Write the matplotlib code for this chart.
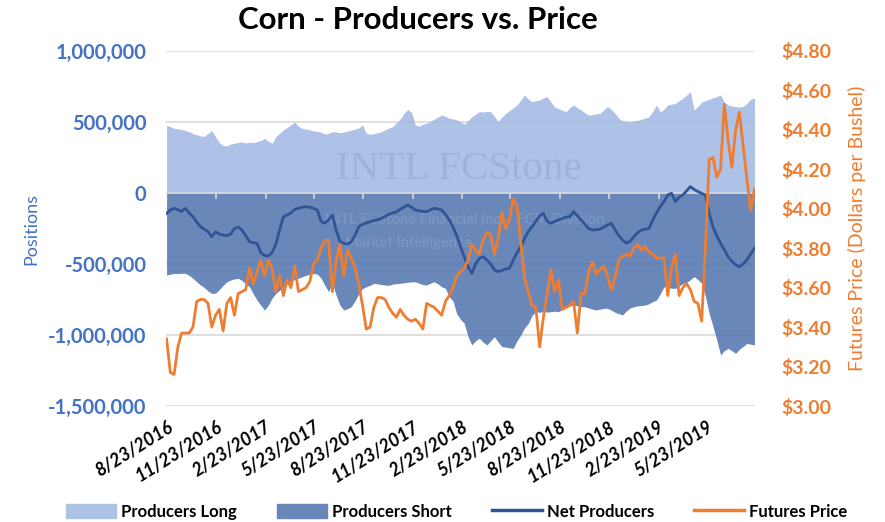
import numpy as np
import matplotlib
matplotlib.use("Agg")
import matplotlib.pyplot as plt
from matplotlib.patches import Patch
from matplotlib.lines import Line2D

plt.rcParams['font.family'] = ['Lato', 'DejaVu Sans']

start = np.datetime64('2016-08-23')

# weekly positions (thousand contracts)
producers_long = [
    475, 468, 455, 452, 447, 440, 432, 418, 410, 402, 398, 420, 440, 395, 355, 335, 332, 345, 350, 356,
    361, 352, 358, 354, 362, 370, 385, 365, 350, 398, 420, 444, 462, 480, 500, 470, 455, 450, 444, 438,
    434, 428, 415, 420, 432, 430, 425, 428, 436, 444, 450, 458, 479, 420, 413, 418, 425, 432, 445, 458,
    467, 495, 520, 560, 589, 568, 480, 470, 485, 491, 505, 519, 535, 549, 540, 526, 522, 515, 500, 486,
    510, 537, 555, 573, 570, 575, 573, 540, 502, 535, 561, 580, 600, 620, 655, 690, 660, 643, 650, 655,
    670, 678, 640, 605, 595, 583, 573, 600, 620, 600, 585, 565, 549, 552, 558, 561, 585, 608, 590, 561,
    525, 510, 505, 502, 508, 512, 519, 528, 537, 575, 620, 570, 590, 620, 625, 631, 650, 667, 690, 713,
    585, 610, 640, 650, 660, 670, 680, 690, 640, 620, 612, 608, 605, 610, 631, 660, 670]
producers_short = [
    -577, -572, -566, -568, -565, -566, -580, -601, -625, -648, -665, -690, -707, -705, -680, -650, -625, -613, -605, -601,
    -615, -640, -660, -710, -754, -790, -824, -790, -740, -707, -685, -660, -640, -620, -610, -600, -589, -580, -572, -566,
    -572, -600, -650, -695, -636, -720, -789, -824, -815, -801, -760, -710, -672, -660, -650, -636, -640, -645, -648, -650,
    -642, -638, -636, -632, -628, -626, -625, -635, -645, -648, -635, -625, -640, -660, -672, -730, -760, -850, -890, -918,
    -1012, -1070, -1040, -1023, -1050, -1070, -1040, -1012, -1050, -1082, -1085, -1090, -1094, -1040, -1000, -950, -918, -860, -836, -840,
    -835, -838, -836, -832, -836, -820, -805, -795, -789, -795, -800, -801, -810, -818, -824, -818, -812, -812, -825, -840,
    -850, -859, -830, -810, -801, -795, -792, -789, -780, -765, -754, -710, -660, -665, -670, -672, -655, -640, -630, -610,
    -589, -610, -636, -730, -850, -940, -1035, -1141, -1110, -1094, -1110, -1129, -1100, -1080, -1059, -1065, -1070]
net_producers = [
    -143, -120, -108, -118, -130, -108, -140, -167, -205, -237, -255, -273, -308, -273, -290, -296, -300, -290, -250, -240,
    -261, -300, -343, -350, -354, -420, -440, -444, -420, -360, -260, -167, -155, -140, -115, -108, -100, -96, -100, -108,
    -120, -200, -213, -190, -155, -261, -340, -354, -360, -345, -300, -237, -220, -212, -202, -195, -188, -178, -165, -150,
    -140, -132, -115, -100, -85, -100, -120, -125, -130, -132, -118, -108, -112, -120, -150, -190, -240, -300, -378, -450,
    -519, -566, -500, -460, -449, -472, -500, -542, -554, -545, -535, -530, -472, -420, -378, -320, -270, -237, -200, -160,
    -143, -200, -213, -200, -190, -180, -170, -167, -132, -160, -190, -220, -250, -261, -258, -255, -240, -225, -213, -260,
    -300, -331, -354, -340, -308, -280, -261, -255, -250, -190, -140, -96, -60, -14, -2, -61, -30, -14, 15, 45,
    25, 10, -2, -14, -143, -240, -300, -354, -400, -449, -480, -505, -519, -500, -470, -430, -390]
# weekly futures price ($/bu)
futures_price = [
    3.34, 3.17, 3.16, 3.30, 3.37, 3.37, 3.37, 3.40, 3.53, 3.54, 3.54, 3.52, 3.40, 3.46, 3.49, 3.38, 3.52, 3.55, 3.46, 3.57,
    3.58, 3.59, 3.70, 3.62, 3.68, 3.74, 3.66, 3.74, 3.70, 3.58, 3.66, 3.56, 3.64, 3.60, 3.71, 3.58, 3.59, 3.60, 3.63, 3.72,
    3.74, 3.80, 3.84, 3.84, 3.58, 3.74, 3.82, 3.66, 3.79, 3.75, 3.70, 3.62, 3.51, 3.39, 3.40, 3.50, 3.55, 3.55, 3.54, 3.50,
    3.47, 3.45, 3.49, 3.46, 3.44, 3.43, 3.44, 3.42, 3.39, 3.52, 3.51, 3.50, 3.48, 3.46, 3.53, 3.56, 3.60, 3.66, 3.68, 3.70,
    3.74, 3.82, 3.79, 3.77, 3.84, 3.88, 3.87, 3.77, 3.85, 3.98, 3.90, 3.95, 4.05, 4.01, 3.83, 3.65, 3.58, 3.51, 3.50, 3.30,
    3.45, 3.57, 3.69, 3.58, 3.64, 3.49, 3.50, 3.51, 3.53, 3.37, 3.57, 3.57, 3.68, 3.73, 3.67, 3.69, 3.71, 3.66, 3.59, 3.65,
    3.74, 3.76, 3.77, 3.76, 3.80, 3.82, 3.79, 3.81, 3.78, 3.77, 3.75, 3.75, 3.75, 3.56, 3.70, 3.77, 3.56, 3.60, 3.62, 3.59,
    3.53, 3.52, 3.43, 3.81, 4.25, 4.26, 4.16, 4.20, 4.53, 4.35, 4.21, 4.40, 4.49, 4.32, 4.15, 3.99, 4.10]

tick_dates = ['2016-08-23', '2016-11-23', '2017-02-23', '2017-05-23', '2017-08-23', '2017-11-23',
              '2018-02-23', '2018-05-23', '2018-08-23', '2018-11-23', '2019-02-23', '2019-05-23']


def weeks(vals):
    return start + 7 * np.arange(len(vals))


LIGHT = (160/255, 183/255, 226/255)   # drawn with alpha 0.85 -> ~#AEC2E6 on white
DARK = (80/255, 114/255, 173/255)     # drawn with alpha 0.85 -> ~#6A87B9
NAVY = '#2F5597'
ORANGE = '#ED7D31'
BLUE_TXT = '#4472C4'

fig = plt.figure(figsize=(8.85, 5.22), dpi=100)
ax = fig.add_axes([0.1876, 0.2222, 0.6655, 0.6801])
ax2 = ax.twinx()

ax.grid(axis='y', color='#D9D9D9', lw=1.2, zorder=0)
ax.set_axisbelow(True)
ax.fill_between(weeks(producers_long), 0, np.array(producers_long) * 1000, color=LIGHT, alpha=0.85, lw=0, zorder=2)
ax.fill_between(weeks(producers_short), 0, np.array(producers_short) * 1000, color=DARK, alpha=0.85, lw=0, zorder=2)

tds = [np.datetime64(d) for d in tick_dates]
ax.axhline(0, color='#D9D9D9', lw=1.2, zorder=3)
ax.vlines(tds[1:], -40000, 0, color='#D9D9D9', lw=1.2, zorder=3)

# watermark
wm = '#8FA6CF'
ax.text(0.497, 0.665, 'INTL FCStone', transform=ax.transAxes, ha='center', va='center',
        fontsize=29.5, family='Liberation Serif', color=wm, alpha=0.5, zorder=3)
ax.text(0.508, 0.524, 'INTL FCStone Financial Inc. - FCM Division', transform=ax.transAxes,
        ha='center', va='center', fontsize=10.5, fontweight='bold', color=wm, alpha=0.45, zorder=3)
ax.text(0.304, 0.459, 'Market Intelligence', transform=ax.transAxes,
        ha='left', va='center', fontsize=10.5, fontweight='bold', color=wm, alpha=0.45, zorder=3)

ax.plot(weeks(net_producers), np.array(net_producers) * 1000, color=NAVY, lw=2.0, zorder=4)
ax2.plot(weeks(futures_price), futures_price, color=ORANGE, lw=2.0)

ax.set_ylim(-1500000, 1000000)
ax.set_yticks(np.arange(-1500000, 1000001, 500000))
ax.yaxis.set_major_formatter(matplotlib.ticker.FuncFormatter(lambda v, p: f'{v:,.0f}'))
ax2.set_ylim(3.0, 4.8)
ax2.set_yticks(np.arange(3.0, 4.81, 0.2))
ax2.yaxis.set_major_formatter(matplotlib.ticker.FuncFormatter(lambda v, p: f'${v:.2f}'))

xmin = start - np.timedelta64(1, 'D')
xmax = weeks(futures_price)[-1] + np.timedelta64(1, 'D')
ax.set_xlim(xmin, xmax)

ax.set_xticks(tds)
ax.set_xticklabels([f'{int(d[5:7])}/{int(d[8:10])}/{d[:4]}' for d in tick_dates],
                   rotation=32, ha='right', rotation_mode='anchor',
                   fontsize=13, fontweight='bold', style='italic')
ax.tick_params(axis='x', length=0, pad=9)

ax.tick_params(axis='y', length=0, pad=14, labelsize=14.5, labelcolor=BLUE_TXT)
ax2.tick_params(axis='y', length=0, pad=19, labelsize=14, labelcolor=ORANGE)
for lab in ax.get_yticklabels() + ax2.get_yticklabels():
    lab.set_fontweight('bold')
for a in (ax, ax2):
    for s in a.spines.values():
        s.set_visible(False)

ax.set_ylabel('Positions', color=BLUE_TXT, fontsize=13, labelpad=6)
ax2.set_ylabel('Futures Price (Dollars per Bushel)', color=ORANGE, fontsize=14, labelpad=12)
fig.text(0.472, 0.962, 'Corn - Producers vs. Price', ha='center', va='center',
         fontsize=22.5, fontweight='bold')

handles = [Patch(color='#AEC2E6'), Patch(color='#6A87B9'), Line2D([], [], color=NAVY, lw=2.5),
           Line2D([], [], color=ORANGE, lw=2.5)]
labels = ['Producers Long', 'Producers Short', 'Net Producers', 'Futures Price']
fig.legend(handles, labels, loc='center', bbox_to_anchor=(0.516, 0.02), ncol=4, frameon=False,
           prop={'size': 12, 'weight': 'bold'}, handlelength=3.0, handleheight=0.9,
           columnspacing=2.4, handletextpad=0.3)

fig.savefig('out.png', dpi=100)
